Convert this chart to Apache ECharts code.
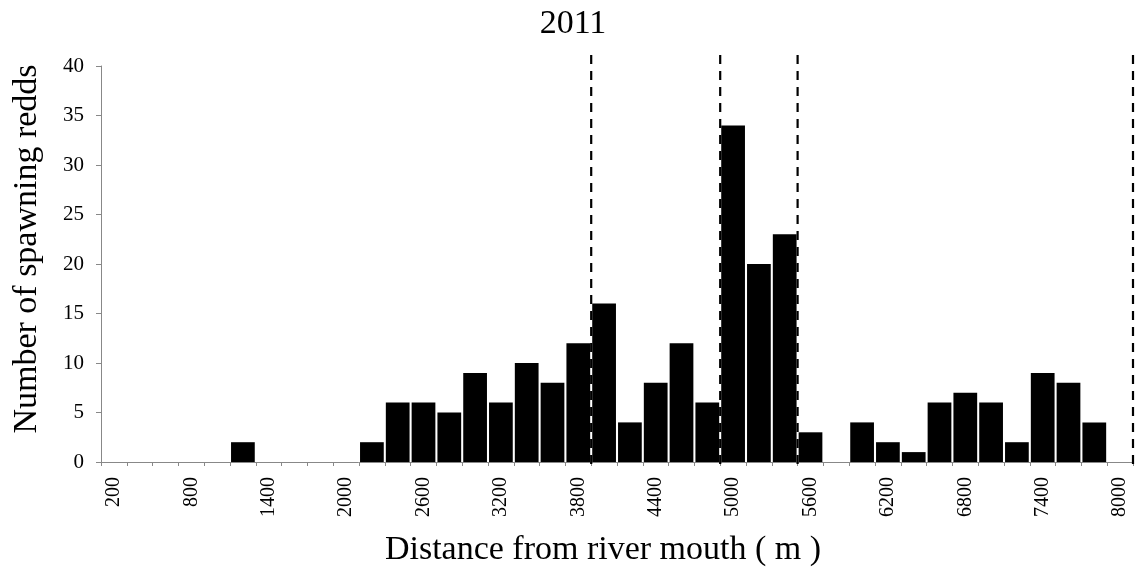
<!DOCTYPE html>
<html>
<head>
<meta charset="utf-8">
<script src="https://cdn.jsdelivr.net/npm/echarts@6/dist/echarts.min.js"></script>
<style>
html,body{margin:0;padding:0;background:#fff;}
#chart{width:1142px;height:573px;}
</style>
</head>
<body>
<div id="chart"></div>
<script>
// Distance categories (m)
var categories = [200,400,600,800,1000,1200,1400,1600,1800,2000,2200,2400,2600,2800,3000,3200,3400,3600,3800,4000,4200,4400,4600,4800,5000,5200,5400,5600,5800,6000,6200,6400,6600,6800,7000,7200,7400,7600,7800,8000];
// Number of spawning redds per category
var redds = [0,0,0,0,0,2,0,0,0,0,2,6,6,5,9,6,10,8,12,16,4,8,12,6,34,20,23,3,0,4,2,1,6,7,6,2,9,8,4,0];
// Dashed section boundaries (m)
var dividers = [3900, 4900, 5500, 8100];
var yTicks = {min: 0, max: 40, interval: 5};
var titleText = '2011';
var xName = 'Distance from river mouth ( m )';
var yName = 'Number of spawning redds';

var serif = '"Liberation Serif", "Times New Roman", serif';
var chart = echarts.init(document.getElementById('chart'), null, {renderer: 'canvas'});

var step = categories[1] - categories[0];

chart.setOption({
  animation: false,
  backgroundColor: '#fff',
  grid: {left: 101, right: 9, top: 66, bottom: 111, containLabel: false},
  xAxis: {
    type: 'category',
    data: categories.map(String),
    boundaryGap: true,
    axisLine: {show: true, lineStyle: {color: '#888', width: 1}},
    axisTick: {show: true, interval: 0, length: 4, lineStyle: {color: '#888'}},
    axisLabel: {interval: 2, rotate: 90, margin: 15, fontFamily: serif, fontSize: 20, color: '#000'},
    splitLine: {show: false}
  },
  yAxis: {
    type: 'value',
    min: yTicks.min, max: yTicks.max, interval: yTicks.interval,
    axisLine: {show: true, lineStyle: {color: '#888', width: 1}},
    axisTick: {show: true, length: 5, lineStyle: {color: '#888'}},
    axisLabel: {margin: 17, fontFamily: serif, fontSize: 21, color: '#000'},
    splitLine: {show: false}
  },
  graphic: [
    {type: 'text', x: 573, y: 24, style: {text: titleText, font: '34px ' + serif, fill: '#000', textAlign: 'center', textVerticalAlign: 'middle'}},
    {type: 'text', x: 603, y: 550, style: {text: xName, font: '34px ' + serif, fill: '#000', textAlign: 'center', textVerticalAlign: 'middle'}},
    {type: 'text', x: 27, y: 249, rotation: Math.PI / 2, style: {text: yName, font: '34px ' + serif, fill: '#000', textAlign: 'center', textVerticalAlign: 'middle'}}
  ],
  series: [
    {
      type: 'bar',
      data: redds,
      barCategoryGap: '8%',
      itemStyle: {color: '#000'},
      z: 2
    },
    {
      type: 'custom',
      clip: false,
      z: 5,
      encode: {x: 0, y: 1},
      data: dividers.map(function (d) { return [0, 0, d]; }),
      renderItem: function (params, api) {
        var d = api.value(2);
        var idx = (d - categories[0]) / step;
        var lo = Math.floor(idx);
        var band = api.size([1, 0])[0];
        var base = api.coord([lo, 0]);
        var x = base[0] + (idx - lo) * band;
        var top = api.coord([lo, yTicks.max])[1] - 11;
        var bottom = base[1] + 3;
        return {
          type: 'line',
          shape: {x1: x, y1: top, x2: x, y2: bottom},
          style: {stroke: '#000', lineWidth: 2.2, lineDash: [9, 7]}
        };
      }
    }
  ]
});
</script>
</body>
</html>
